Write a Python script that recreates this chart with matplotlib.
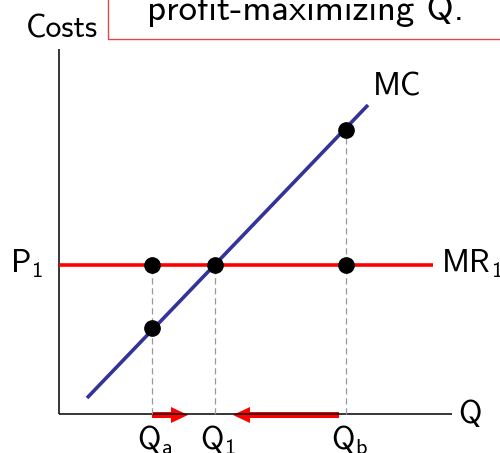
import matplotlib
matplotlib.use("Agg")
import matplotlib.pyplot as plt
from matplotlib.patches import FancyArrow

plt.rcParams['font.family'] = ['cmss10', 'DejaVu Sans']
plt.rcParams['mathtext.default'] = 'regular'
plt.rcParams['axes.unicode_minus'] = False

# ---- data (arbitrary units: quantity on x, cost on y) ----
q_labels = ["$Q_a$", "$Q_1$", "$Q_b$"]
q_values = [93, 156, 287]
price_p1 = 149
mc_at_q = [86, 149, 284]          # MC at Qa, Q1, Qb
mr_at_q = [149, 149, 149]
mc_line_q = [28, 309]
mc_line_cost = [16, 309]
mr_line_q = [0, 374]
arrow_start = [93, 280]
arrow_end = [129, 174]

fig = plt.figure(figsize=(5.0, 4.53), dpi=100)
ax = fig.add_axes([0, 0, 1, 1])
ax.set_xlim(-59, 441)
ax.set_ylim(-39, 414)
ax.axis('off')

# axes lines
ax.plot([0, 0], [0, 365], color='black', lw=1.1, solid_capstyle='butt')
ax.plot([0, 393], [0, 0], color='black', lw=1.1, solid_capstyle='butt')

# dashed guides
ax.plot([q_values[0], q_values[0]], [0, mr_at_q[0]], color='#999999', lw=0.9, ls=(0, (5, 3)))
ax.plot([q_values[1], q_values[1]], [0, mr_at_q[1]], color='#999999', lw=0.9, ls=(0, (5, 3)))
ax.plot([q_values[2], q_values[2]], [0, mc_at_q[2]], color='#999999', lw=0.9, ls=(0, (5, 3)))

# MR line and MC line
ax.plot(mr_line_q, [price_p1, price_p1], color='#ff0000', lw=2.6, solid_capstyle='butt')
ax.plot(mc_line_q, mc_line_cost, color='#333399', lw=2.6, solid_capstyle='butt')

# dots
ax.plot(q_values, mr_at_q, 'o', color='black', ms=11)
ax.plot([q_values[0], q_values[2]], [mc_at_q[0], mc_at_q[2]], 'o', color='black', ms=11)

# arrows
for s, e in zip(arrow_start, arrow_end):
    d = e - s
    ax.add_patch(FancyArrow(s, -1, d, 0, width=6, head_width=16, head_length=17,
                            length_includes_head=True, color='#ff0000', lw=0))

fs = 23
ax.text(3, 376, "Costs", fontsize=fs, ha='center', va='baseline')
ax.text(-16, 142, "$P_1$", fontsize=fs, ha='right', va='baseline')
ax.text(382, 142, "$MR_1$", fontsize=fs, ha='left', va='baseline')
ax.text(314, 319, "MC", fontsize=fs, ha='left', va='baseline')
ax.text(399, -9, "Q", fontsize=fs, ha='left', va='baseline')
for qv, lab in zip(q_values, q_labels):
    ax.text(qv - 15, -35, lab, fontsize=fs, ha='left', va='baseline')

# title box (partial)
ax.plot([49, 49, 441], [414, 375, 375], color='#e04848', lw=1.0)
ax.text(246, 394, "profit-maximizing Q.", fontsize=26.5, ha='center', va='baseline')

fig.savefig("out.png", dpi=100)
